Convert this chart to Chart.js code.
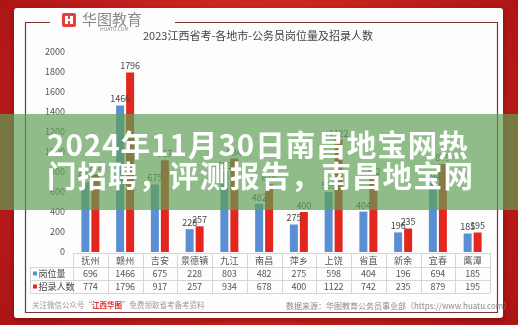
<!DOCTYPE html>
<html>
<head>
<meta charset="utf-8">
<script src="https://cdn.jsdelivr.net/npm/chart.js@4"></script>
<style>
  body { margin: 0; background: #c41c1c; overflow: hidden; }
  #wrap { position: relative; width: 518px; height: 325px; }
  #banner {
    position: absolute; left: 0; top: 114px; width: 518px; height: 96px;
    background: rgba(95, 160, 85, 0.7);
    box-sizing: border-box; padding: 14px 0 0 47px;
    color: #fff; font-family: "Noto Sans CJK SC", sans-serif; font-weight: 700;
    font-size: 29.5px; line-height: 31px; letter-spacing: 1px;
    white-space: nowrap;
  }
</style>
</head>
<body>
<div id="wrap">
  <canvas id="bars" width="518" height="325"></canvas>
  <div id="banner">2024年11月30日南昌地宝网热<br>门招聘，评测报告，南昌地宝网</div>
</div>
<script>
var cities = ['抚州', '赣州', '吉安', '景德镇', '九江', '南昌', '萍乡', '上饶', '省直', '新余', '宜春', '鹰潭'];
var posts = [696, 1466, 675, 228, 803, 482, 275, 598, 404, 196, 694, 185];
var hires = [774, 1796, 917, 257, 934, 678, 400, 1122, 742, 235, 879, 195];
var seriesNames = ['岗位量', '招录人数'];
var seriesColors = ['#5b8fd4', '#e3261e'];
var chartTitle = '2023江西省考-各地市-公务员岗位量及招录人数';

var FONT = '"Noto Sans CJK SC", "Noto Sans", sans-serif';

window.onload = function() {
  var canvas = document.getElementById('bars');
  var ctx = canvas.getContext('2d');

  // red backdrop, white card, frame, logo and title
  const poster = {
    id: 'poster',
    beforeDraw(chart) {
      const c = chart.ctx;
      c.save();
      var bg = c.createRadialGradient(259, 120, 40, 259, 160, 330);
      bg.addColorStop(0, '#dc3028');
      bg.addColorStop(1, '#a81212');
      c.fillStyle = bg;
      c.fillRect(0, 0, 518, 325);

      c.shadowColor = 'rgba(60,0,0,0.45)';
      c.shadowBlur = 6;
      c.shadowOffsetY = 2;
      c.fillStyle = '#fdfdfd';
      c.beginPath();
      c.roundRect(14, 8, 489, 310, 3);
      c.fill();
      c.shadowColor = 'transparent';

      // frame, broken at the top for the logo
      c.strokeStyle = '#7a3434';
      c.lineWidth = 1.2;
      c.beginPath();
      c.moveTo(50, 22.5);
      c.lineTo(25.5, 22.5);
      c.lineTo(25.5, 312.5);
      c.lineTo(497.5, 312.5);
      c.lineTo(497.5, 22.5);
      c.lineTo(175, 22.5);
      c.stroke();

      // logo
      c.fillStyle = '#e0433a';
      c.beginPath();
      c.roundRect(62, 13, 14, 14, 2);
      c.fill();
      c.fillStyle = '#fff';
      c.fillRect(65, 16, 3, 8);
      c.fillRect(70, 16, 3, 8);
      c.fillRect(65, 19, 8, 2);
      c.fillStyle = '#8a8a8a';
      c.font = '15px ' + FONT;
      c.textBaseline = 'alphabetic';
      c.textAlign = 'left';
      c.fillText('华图教育', 82, 25);
      c.font = '5px ' + FONT;
      c.fillText('HUATU.COM', 100, 31);

      c.fillStyle = '#444';
      c.font = '11px ' + FONT;
      c.textAlign = 'center';
      c.textBaseline = 'middle';
      c.fillText(chartTitle, 258, 36);
      c.restore();
    }
  };

  // value labels over each bar
  const valueLabels = {
    id: 'valueLabels',
    afterDatasetsDraw(chart) {
      const c = chart.ctx;
      c.save();
      c.font = '9px ' + FONT;
      c.fillStyle = '#444';
      c.textAlign = 'center';
      c.textBaseline = 'bottom';
      chart.data.datasets.forEach(function(ds, i) {
        chart.getDatasetMeta(i).data.forEach(function(bar, j) {
          c.fillText(ds.data[j], bar.x, bar.y - 2);
        });
      });
      c.restore();
    }
  };

  // data table under the axis, plus footer notes
  const dataTable = {
    id: 'dataTable',
    afterDraw(chart) {
      const c = chart.ctx;
      const x = chart.scales.x;
      const area = chart.chartArea;
      var rows = [253, 267, 280, 293];
      var half = (x.getPixelForValue(1) - x.getPixelForValue(0)) / 2;
      c.save();
      c.strokeStyle = '#d6d6d6';
      c.lineWidth = 1;
      c.beginPath();
      c.moveTo(area.left, rows[0] + 0.5);
      c.lineTo(area.right, rows[0] + 0.5);
      for (var r = 1; r < rows.length; r++) {
        c.moveTo(30, rows[r] + 0.5);
        c.lineTo(area.right, rows[r] + 0.5);
      }
      c.moveTo(30.5, rows[1]);
      c.lineTo(30.5, rows[3]);
      for (var i = 0; i <= cities.length; i++) {
        var px = Math.round(x.getPixelForValue(i) - half) + 0.5;
        c.moveTo(px, rows[0]);
        c.lineTo(px, rows[3]);
      }
      c.stroke();

      c.font = '9px ' + FONT;
      c.fillStyle = '#555';
      c.textAlign = 'center';
      c.textBaseline = 'middle';
      cities.forEach(function(name, j) {
        var cx = x.getPixelForValue(j);
        c.fillText(name, cx, 260.5);
        c.fillText(posts[j], cx, 273.5);
        c.fillText(hires[j], cx, 286.5);
      });

      // series keys in the first column
      c.textAlign = 'left';
      [273.5, 286.5].forEach(function(y, k) {
        c.fillStyle = seriesColors[k];
        c.fillRect(33, y - 2, 4, 4);
        c.fillStyle = '#444';
        c.fillText(seriesNames[k], 38.5, y);
      });

      c.font = '7.5px ' + FONT;
      c.fillStyle = '#9a9a9a';
      var left1 = '关注微信公众号“';
      c.fillText(left1, 32, 305);
      var w1 = c.measureText(left1).width;
      c.fillStyle = '#d9302a';
      c.font = 'bold 7.5px ' + FONT;
      c.fillText('江西华图', 32 + w1, 305);
      var w2 = c.measureText('江西华图').width;
      c.font = '7.5px ' + FONT;
      c.fillStyle = '#9a9a9a';
      c.fillText('”免费领取省考备考资料', 32 + w1 + w2, 305);
      c.fillStyle = '#8a8a8a';
      c.font = '8px ' + FONT;
      c.fillText('数据来源：华图教育公务员事业部（https://www.huatu.com）', 286, 306);
      c.restore();
    }
  };

  var chart = new Chart(ctx, {
    type: 'bar',
    data: {
      labels: cities,
      datasets: [{
        label: seriesNames[0],
        data: posts,
        backgroundColor: seriesColors[0]
      }, {
        label: seriesNames[1],
        data: hires,
        backgroundColor: seriesColors[1]
      }]
    },
    options: {
      responsive: false,
      animation: false,
      categoryPercentage: 0.575,
      barPercentage: 0.8,
      layout: {
        padding: { left: 23, right: 28, top: 52, bottom: 73 }
      },
      scales: {
        x: { display: false },
        y: {
          min: 0,
          max: 2000,
          afterFit: function(s) { s.width = 50; },
          ticks: {
            stepSize: 200,
            padding: 8,
            color: '#555',
            font: { size: 9, family: FONT },
            callback: function(v) { return String(v); }
          },
          grid: { display: false, drawTicks: false },
          border: { display: false }
        }
      },
      plugins: {
        legend: { display: false },
        tooltip: { enabled: false }
      }
    },
    plugins: [poster, valueLabels, dataTable]
  });
};
</script>
</body>
</html>
